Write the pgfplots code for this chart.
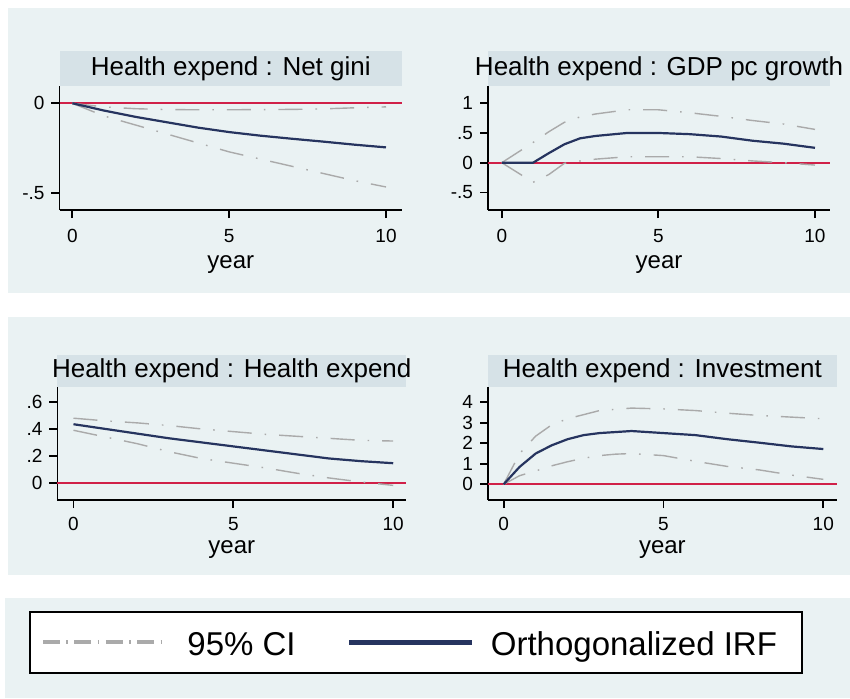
\documentclass[border=0pt]{standalone}
\usepackage{fontspec}
\setmainfont{Liberation Sans}
\usepackage{pgfplots}
\pgfplotsset{compat=1.18}

\definecolor{bgband}{RGB}{234,242,243}
\definecolor{titleband}{RGB}{214,226,231}
\definecolor{irfnavy}{RGB}{38,52,95}
\definecolor{zeroline}{RGB}{208,32,72}
\definecolor{cigray}{RGB}{170,170,170}

\pgfplotsset{
  irfpanel/.style={
    scale only axis, anchor=south west, clip=false,
    axis x line*=bottom, axis y line*=left,
    axis line style={-, line width=0.9pt, black},
    tick align=outside, major tick length=4pt,
    every tick/.style={black, line width=0.9pt},
    xtick={0,5,10},
    ymajorgrids, grid style={line width=0.8pt, bgband},
    tick label style={font=\fontsize{9.5}{11}\selectfont, black},
    /pgf/number format/assume math mode=true,
    xlabel={year},
    xlabel style={font=\fontsize{12}{14}\selectfont, at={(axis description cs:0.5,0)}, anchor=center},
  },
  toprow/.style={height=62pt,
    xticklabel style={anchor=center, yshift=-9pt},
    xlabel style={yshift=-27.5pt}},
  botrow/.style={height=56.5pt,
    xticklabel style={anchor=center, yshift=-8pt},
    xlabel style={yshift=-25pt}},
  ci/.style={cigray, line width=0.7pt, dash pattern=on 12pt off 6.5pt on 0.8pt off 6.5pt},
  irf/.style={irfnavy, line width=1.1pt},
  zero/.style={zeroline, line width=1pt},
}

\newcommand{\band}[2]{%
  \fill[titleband] (rel axis cs:0,1) rectangle ([yshift=#1]rel axis cs:1,1);
  \node[font=\fontsize{13}{15}\selectfont, inner sep=0] at ([yshift=#1/2]rel axis cs:0.5,1) {#2};
}

\begin{document}
\begin{tikzpicture}
\path[use as bounding box] (0,0) rectangle (425pt,-349pt);
\begin{scope}[x=0.5pt,y=-0.5pt]
  \fill[bgband] (8,8) rectangle (850,293);
  \fill[bgband] (8,317) rectangle (850,575);
  \fill[bgband] (5,598) rectangle (850,698);
\end{scope}

% Health expend : Net gini
\begin{axis}[irfpanel, toprow, at={(29.75pt,-105pt)}, width=171.25pt,
  xmin=-0.41, xmax=10.51, ymin=-0.593, ymax=0.096,
  ytick={-0.5,0}, yticklabels={-.5,0}]
  \addplot[zero] coordinates {(-0.41,0) (10.51,0)};
  \addplot[ci] coordinates {(0,0) (1,-0.02) (2,-0.03) (3,-0.035) (4,-0.036) (5,-0.036) (6,-0.035) (7,-0.034) (8,-0.031) (9,-0.025) (10,-0.02)};
  \addplot[ci] coordinates {(0,0) (1,-0.07) (2,-0.12) (3,-0.17) (4,-0.22) (5,-0.27) (6,-0.31) (7,-0.35) (8,-0.39) (9,-0.43) (10,-0.465)};
  \addplot[irf] coordinates {(0,0) (1,-0.04) (2,-0.075) (3,-0.105) (4,-0.135) (5,-0.16) (6,-0.18) (7,-0.197) (8,-0.213) (9,-0.23) (10,-0.245)};
  \band{17.5pt}{Health expend : Net gini}
\end{axis}

% Health expend : GDP pc growth
\begin{axis}[irfpanel, toprow, at={(244pt,-105pt)}, width=171pt,
  xmin=-0.44, xmax=10.48, ymin=-0.796, ymax=1.29,
  ytick={-0.5,0,0.5,1}, yticklabels={-.5,0,.5,1}]
  \addplot[zero] coordinates {(-0.44,0) (10.48,0)};
  \addplot[ci] coordinates {(0,0) (1,0.34) (1.5,0.52) (2,0.68) (2.5,0.77) (3,0.82) (4,0.89) (5,0.89) (6,0.84) (7,0.78) (8,0.71) (9,0.65) (10,0.56)};
  \addplot[ci] coordinates {(0,0) (1,-0.33) (1.5,-0.2) (2,-0.01) (2.5,0.03) (3,0.06) (4,0.1) (5,0.1) (6,0.1) (7,0.07) (8,0.03) (9,0) (10,-0.04)};
  \addplot[irf] coordinates {(0,0) (1,0) (1.5,0.16) (2,0.31) (2.5,0.41) (3,0.45) (4,0.5) (5,0.5) (6,0.48) (7,0.44) (8,0.37) (9,0.32) (10,0.25)};
  \band{17.5pt}{Health expend : GDP pc growth}
\end{axis}

% Health expend : Health expend
\begin{axis}[irfpanel, botrow, at={(28.75pt,-250pt)}, width=174.25pt,
  xmin=-0.5, xmax=10.4, ymin=-0.129, ymax=0.712,
  ytick={0,0.2,0.4,0.6}, yticklabels={0,.2,.4,.6}]
  \addplot[zero] coordinates {(-0.5,0) (10.4,0)};
  \addplot[ci] coordinates {(0,0.48) (1,0.46) (2,0.445) (3,0.425) (4,0.40) (5,0.38) (6,0.36) (7,0.345) (8,0.33) (9,0.315) (10,0.31)};
  \addplot[ci] coordinates {(0,0.39) (1,0.34) (2,0.29) (3,0.23) (4,0.18) (5,0.145) (6,0.11) (7,0.07) (8,0.035) (9,0.005) (10,-0.02)};
  \addplot[irf] coordinates {(0,0.435) (1,0.40) (2,0.365) (3,0.33) (4,0.30) (5,0.27) (6,0.24) (7,0.21) (8,0.18) (9,0.16) (10,0.145)};
  \band{16pt}{Health expend : Health expend}
\end{axis}

% Health expend : Investment
\begin{axis}[irfpanel, botrow, at={(244pt,-250pt)}, width=174.35pt,
  xmin=-0.49, xmax=10.42, ymin=-0.77, ymax=4.75,
  ytick={0,1,2,3,4}]
  \addplot[zero] coordinates {(-0.49,0) (10.42,0)};
  \addplot[ci] coordinates {(0,0) (0.5,1.5) (1,2.35) (1.5,2.9) (2,3.2) (3,3.6) (4,3.72) (5,3.68) (6,3.6) (7,3.47) (8,3.36) (9,3.28) (10,3.2)};
  \addplot[ci] coordinates {(0,0) (0.5,0.42) (1,0.65) (1.5,0.9) (2,1.1) (2.5,1.27) (3,1.4) (3.5,1.47) (4,1.5) (4.5,1.45) (5,1.4) (6,1.12) (7,0.87) (8,0.7) (9,0.45) (10,0.24)};
  \addplot[irf] coordinates {(0,0) (0.5,0.85) (1,1.5) (1.5,1.9) (2,2.2) (2.5,2.4) (3,2.5) (4,2.6) (5,2.5) (6,2.4) (7,2.2) (8,2.03) (9,1.85) (10,1.72)};
  \band{16pt}{Health expend : Investment}
\end{axis}

% legend
\begin{scope}[x=0.5pt,y=-0.5pt]
  \draw[black, line width=0.6pt, fill=white] (30,612) rectangle (802,673);
  \draw[cigray, line width=2pt, dash pattern=on 8.5pt off 3.2pt on 0.8pt off 3.2pt] (43,642) -- (163,642);
  \node[anchor=base west, inner sep=0, font=\fontsize{16.5}{18}\selectfont] at (187,655) {95\% CI};
  \draw[irfnavy, line width=2.5pt] (349,642) -- (472,642);
  \node[anchor=base west, inner sep=0, font=\fontsize{16.5}{18}\selectfont] at (490.5,655) {Orthogonalized IRF};
\end{scope}
\end{tikzpicture}
\end{document}
